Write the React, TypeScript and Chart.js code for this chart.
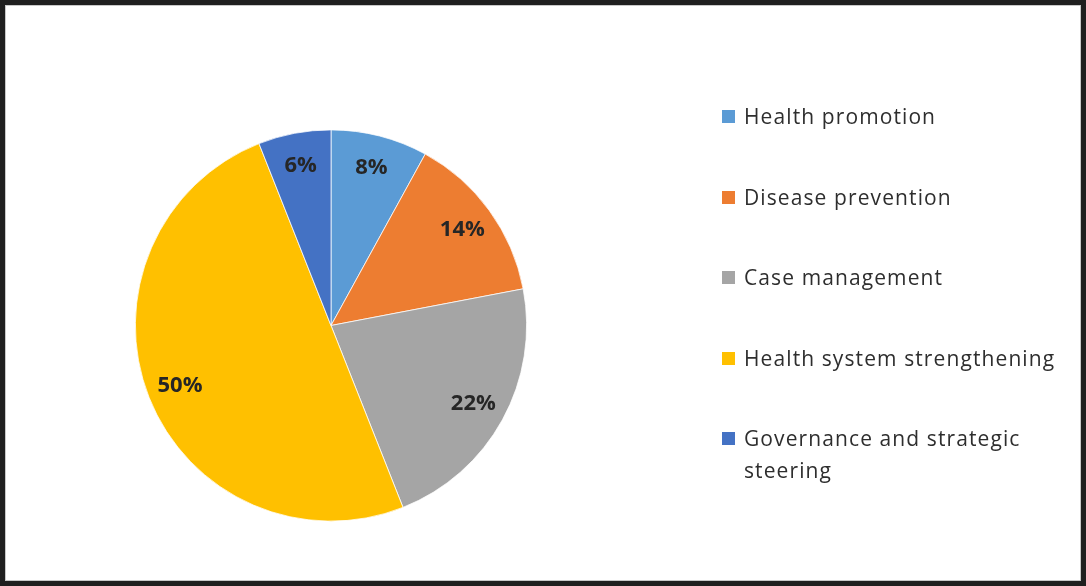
import React, { useEffect, useRef } from "react";
import { Chart, registerables } from "chart.js";

Chart.register(...registerables);

const categories = [
  "Health promotion",
  "Disease prevention",
  "Case management",
  "Health system strengthening",
  "Governance and strategic steering",
];
const shares = [8, 14, 22, 50, 6];
const colors = ["#5B9BD5", "#ED7D31", "#A5A5A5", "#FFC000", "#4472C4"];

const labelPlugin = {
  id: "pctLabels",
  afterDatasetsDraw(chart: any) {
    const ctx = chart.ctx;
    const meta = chart.getDatasetMeta(0);
    ctx.save();
    ctx.font = "bold 22px 'Open Sans'";
    ctx.fillStyle = "#262626";
    ctx.textAlign = "center";
    ctx.textBaseline = "middle";
    meta.data.forEach((arc: any, i: number) => {
      const p = arc.getProps(["x", "y", "startAngle", "endAngle", "outerRadius"], true);
      const mid = (p.startAngle + p.endAngle) / 2;
      const d = p.outerRadius * 0.83;
      ctx.fillText(shares[i] + "%", p.x + Math.cos(mid) * d, p.y + Math.sin(mid) * d);
    });
    ctx.restore();
  },
};

export default function App() {
  const ref = useRef<HTMLCanvasElement>(null);
  useEffect(() => {
    document.body.style.margin = "0";
    const chart = new Chart(ref.current!, {
      type: "pie",
      data: {
        labels: categories,
        datasets: [
          {
            data: shares,
            backgroundColor: colors,
            borderColor: "#ffffff",
            borderWidth: 0.75,
          },
        ],
      },
      options: {
        responsive: false,
        animation: false,
        layout: { padding: { left: 135, right: 559, top: 129, bottom: 64 } },
        plugins: { legend: { display: false }, tooltip: { enabled: false } },
      },
      plugins: [labelPlugin],
    });
    return () => chart.destroy();
  }, []);

  return (
    <div style={{ position: "fixed", left: 0, top: 0, width: 1086, height: 586, background: "#fff" }}>
      <canvas ref={ref} width={1086} height={586} style={{ position: "absolute", left: 0, top: 0 }} />
      <div
        style={{
          position: "absolute",
          left: 0,
          top: 0,
          width: 1086,
          height: 586,
          boxSizing: "border-box",
          border: "5px solid #1f1f1f",
          boxShadow: "inset 0 0 0 1px #c8c8c8",
          pointerEvents: "none",
        }}
      />
      {categories.map((c, i) => (
        <div
          key={c}
          style={{
            position: "absolute",
            left: 722,
            top: 100 + i * 80.5,
            width: 352,
            display: "flex",
            alignItems: "flex-start",
            fontFamily: "'Open Sans', sans-serif",
            fontSize: 21,
            letterSpacing: 1.1,
            lineHeight: "32px",
            color: "#2e2e2e",
          }}
        >
          <span
            style={{
              display: "inline-block",
              width: 13,
              height: 13,
              background: colors[i],
              marginTop: 10,
              marginRight: 9,
              flex: "none",
            }}
          />
          <span>{c}</span>
        </div>
      ))}
    </div>
  );
}
